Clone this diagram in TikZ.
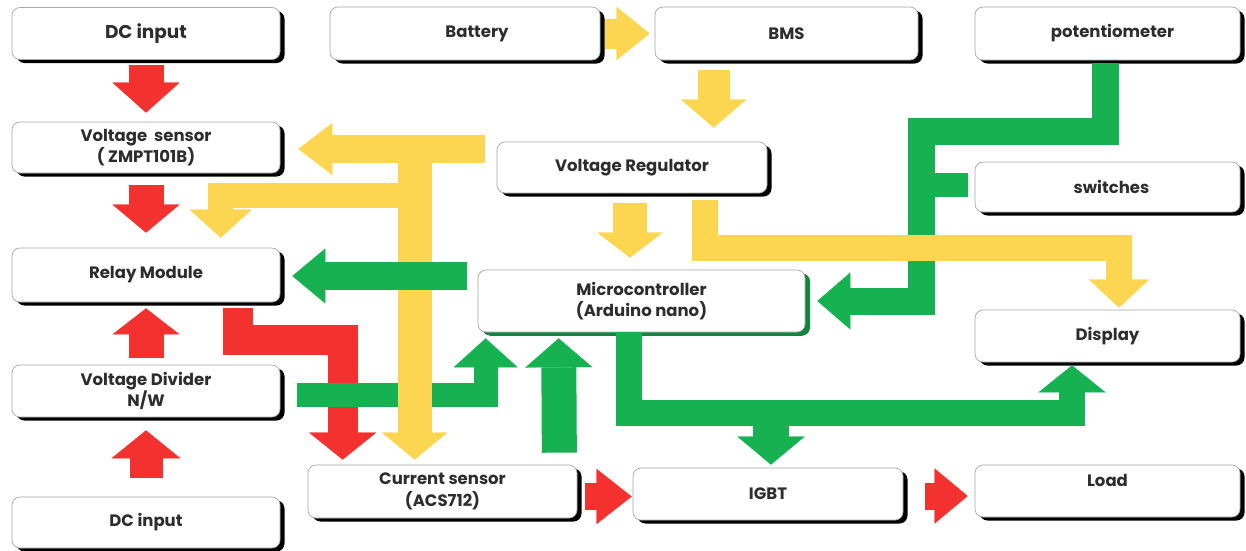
\documentclass[tikz,border=0pt]{standalone}
\usepackage{fontspec}
\setmainfont{Poppins}
\usetikzlibrary{arrows.meta,shadows,calc}
\definecolor{cred}{RGB}{243,50,48}
\definecolor{cyel}{RGB}{252,214,80}
\definecolor{cgrn}{RGB}{22,178,82}
\definecolor{ctext}{RGB}{45,45,45}
\begin{document}
\begin{tikzpicture}[x=1pt,y=-1pt,
  box/.style={draw=black!35, line width=0.7pt, fill=white, rounded corners=8pt,
    minimum width=#1, minimum height=52pt, inner sep=2pt, align=center,
    font=\fontsize{16.5}{21.5}\selectfont\bfseries, text=ctext,
    drop shadow={shadow xshift=4.5pt, shadow yshift=-3.5pt, fill=black, opacity=1}},
  box/.default=268pt,
  mcubox/.style={box=327pt, minimum height=62pt,
    drop shadow={shadow xshift=5pt, shadow yshift=-3.5pt, fill=cgrn!75!black, opacity=1}},
  fat/.style n args={4}{draw=#1, line width=#2pt,
    -{Triangle[length=#3pt, width=#4pt, line width=0.1pt]}},
  shaft/.style n args={2}{draw=#1, line width=#2pt}
]
\fill[white] (0,0) rectangle (1246,550);
\useasboundingbox (0,0) rectangle (1246,550);

% ---------- boxes ----------
\node[box, font=\fontsize{18.5}{22}\selectfont\bfseries] (dc1) at (146,33.5) {DC input};
\node[box, minimum height=51pt] (vs) at (146,147.5) {Voltage\ \ sensor\\( ZMPT101B)};
\node[box, minimum height=54pt] (relay) at (146,275) {Relay Module};
\node[box] (vd) at (146,391) {Voltage Divider\\N/W};
\node[box, minimum height=51pt] (dc2) at (146,522.5) {DC input};
\node[box=270pt, minimum height=53pt] (bat) at (465,33.5) {\hspace*{24pt}Battery};
\node[box=263pt, minimum height=53pt] (bms) at (786.5,33.5) {BMS};
\node[box=265pt, minimum height=53pt] (pot) at (1107.5,33.5) {\hspace*{10pt}potentiometer};
\node[box=270pt, minimum height=51pt] (vreg) at (632,167.5) {Voltage Regulator};
\node[box=265pt, minimum height=50pt] (sw) at (1107.5,187) {\hspace*{8pt}switches};
\node[mcubox] (mcu) at (641.5,301) {Microcontroller\\(Arduino nano)};
\node[box=265pt] (disp) at (1107.5,336) {Display};
\node[box=269pt, minimum height=53pt] (cs) at (442.5,491.5) {Current sensor\\(ACS712)};
\node[box=270pt] (igbt) at (768,494) {IGBT};
\node[box=265pt, text depth=21pt] (load) at (1107.5,491) {Load};

% ---------- red power path ----------
\draw[fat={cred}{35}{30}{67}] ($(dc1.south)+(0,5)$) -- ($(vs.north)+(0,-9)$);
\draw[fat={cred}{35}{28}{67}] ($(vs.south)+(0,12)$) -- ($(relay.north)+(0,-15)$);
\draw[fat={cred}{35}{26}{67}] ($(vd.north)+(0,-7)$) -- ($(relay.south)+(0,6)$);
\draw[fat={cred}{33}{28}{69}] ($(dc2.north)+(0,-19)$) -- ($(vd.south)+(0,13)$);
\draw[fat={cred}{30}{27}{67}] ($(relay.south west)+(226,6)$) |- ($(relay.south west)+(331,38)$)
  -- ($(cs.north west)+(35,-5)$);
\draw[fat={cred}{27}{35}{55}] ($(cs.east)+(8,5)$) -- ($(igbt.west)+(-1,2.5)$);
\draw[fat={cred}{27}{33}{55}] ($(igbt.east)+(22,2)$) -- ($(load.west)+(-7,5)$);

% ---------- green signals (lower) ----------
\draw[fat={cgrn}{24}{29}{64}] ($(vd.east)+(17,4)$) -| ($(mcu.south west)+(8,6)$);
\draw[fat={cgrn}{35}{29}{67}] ($(cs.north east)+(-18,-12)$) -- ($(mcu.south west)+(81,6)$);
\draw[fat={cgrn}{26}{27}{67}] ($(mcu.south)+(-12.5,0)$) |- ($(disp.south)+(-35.5,51)$)
  -- ($(disp.south)+(-35.5,3)$);
\draw[fat={cgrn}{36}{28}{67}] ($(igbt.north)+(3,-55)$) -- ($(igbt.north)+(3,-3)$);

% ---------- yellow supply tree (left) ----------
\coordinate (yj) at ($(vreg.west)+(-82,-18.5)$);
\draw[fat={cyel}{28}{34}{52}] ($(vreg.west)+(-12,-18.5)$) -- ($(vs.east)+(18,1.5)$);
\draw[fat={cyel}{34}{27}{65}] ($(yj)+(0,-14)$) -- ($(cs.north west)+(107,-5)$);
\draw[fat={cyel}{25}{28}{62}] ($(yj)+(0,46)$) -| ($(relay.north west)+(209,-10)$);

% ---------- green to relay ----------
\draw[fat={cgrn}{28}{33}{55}] ($(relay.east)+(187,1)$) -- ($(relay.east)+(12,1)$);

% ---------- green from potentiometer / switches ----------
\draw[fat={cgrn}{27}{33}{57}] ($(pot.south)+(-2.5,3)$) |- ($(sw.west)+(-53,-56)$)
  |- ($(mcu.east)+(12,0)$);
\draw[shaft={cgrn}{24}] ($(sw.west)+(-7,-2)$) -- ($(sw.west)+(-53,-2)$);

% ---------- yellow supply (right) ----------
\draw[fat={cyel}{26}{28}{60}] ($(vreg.south east)+(-62,7)$) |- ($(disp.north)+(11.5,-62)$)
  -- ($(disp.north)+(11.5,-2)$);
\draw[fat={cyel}{30}{33}{53}] ($(bat.east)+(5,0)$) -- ($(bms.west)+(-5,0)$);
\draw[fat={cyel}{32}{28}{65}] ($(bms.south west)+(59,10)$) -- ($(vreg.north west)+(217,-14)$);
\draw[fat={cyel}{34}{25}{65}] ($(vreg.south)+(-2,10)$) -- ($(mcu.north)+(-11.5,-12)$);
\end{tikzpicture}
\end{document}
